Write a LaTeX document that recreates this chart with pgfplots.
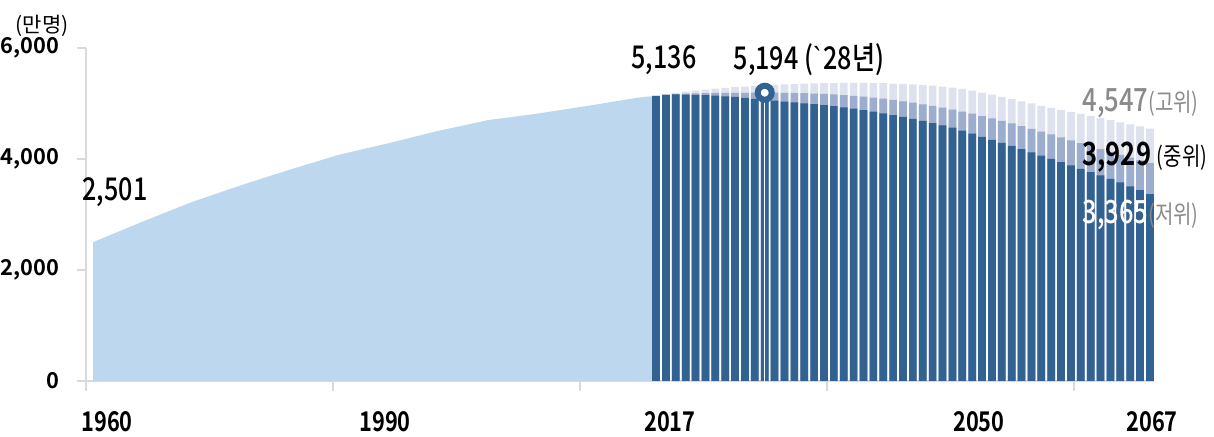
\documentclass[border=0pt]{standalone}
\usepackage{pgfplots}
\usepackage{pgfplotstable}
\usepackage{fontspec}
\pgfplotsset{compat=1.18}
\setmainfont{Noto Sans CJK KR}[BoldFont={Noto Sans CJK KR Bold}]
\newfontfamily\cond{Noto Sans CJK KR}[FakeStretch=0.8, BoldFont={Noto Sans CJK KR Bold}]
\newfontfamily\condm{Noto Sans CJK KR Medium}[FakeStretch=0.8]
\newfontfamily\lat{Liberation Sans}[FakeStretch=0.8]

\definecolor{areablue}{RGB}{189,215,238}
\definecolor{lowblue}{RGB}{50,98,146}
\definecolor{midblue}{RGB}{156,173,206}
\definecolor{highblue}{RGB}{221,226,238}
\definecolor{axisgrey}{RGB}{217,217,217}
\definecolor{txtgrey}{RGB}{138,138,138}

% 1960-2017 estimates (10k persons)
\pgfplotstableread{
year pop
1960 2501
1965 2870
1970 3224
1975 3528
1980 3812
1985 4081
1990 4287
1995 4509
2000 4701
2005 4818
2010 4955
2015 5101
2016 5122
2017 5136
}\past

% 2017-2067 projections: low / medium / high
\pgfplotstableread{
year low mid high
2017 5136 5136 5136
2018 5156 5161 5165
2019 5165 5171 5190
2020 5162 5178 5212
2021 5157 5183 5232
2022 5150 5187 5250
2023 5141 5190 5266
2024 5130 5192 5281
2025 5117 5193 5294
2026 5102 5193 5306
2027 5085 5194 5317
2028 5068 5194 5327
2029 5050 5194 5336
2030 5035 5193 5344
2031 5018 5190 5351
2032 5003 5186 5357
2033 4988 5180 5362
2034 4972 5172 5366
2035 4953 5163 5369
2036 4932 5151 5371
2037 4908 5138 5371
2038 4882 5122 5370
2039 4854 5105 5368
2040 4824 5086 5365
2041 4792 5064 5360
2042 4758 5040 5354
2043 4723 5014 5346
2044 4686 4986 5336
2045 4647 4957 5322
2046 4606 4925 5305
2047 4563 4891 5285
2048 4510 4855 5262
2049 4455 4816 5232
2050 4400 4774 5198
2051 4345 4731 5160
2052 4290 4686 5120
2053 4235 4640 5080
2054 4178 4592 5040
2055 4120 4543 5000
2056 4062 4493 4957
2057 4003 4442 4921
2058 3944 4390 4885
2059 3884 4337 4849
2060 3824 4284 4812
2061 3764 4231 4775
2062 3704 4178 4738
2063 3643 4126 4700
2064 3578 4075 4662
2065 3508 4025 4624
2066 3437 3977 4586
2067 3365 3929 4547
}\proj

\begin{document}
\begin{tikzpicture}
\path[use as bounding box] (0,0) rectangle (607pt,218.5pt);
\begin{axis}[
  at={(43pt,28pt)}, anchor=south west,
  scale only axis,
  width=533.95pt, height=166.5pt,
  xmin=1959.29, xmax=2067.4,
  ymin=0, ymax=6000,
  clip=false,
  axis x line*=bottom, axis y line*=left,
  axis line style={draw=axisgrey, line width=0.8pt},
  tick align=outside,
  major tick length=4.75pt,
  tick style={draw=axisgrey, line width=0.8pt},
  ytick={0,2000,4000,6000},
  yticklabels={0,{2,000},{4,000},{6,000}},
  yticklabel style={font=\bfseries\fontsize{10.9}{12}\selectfont, xshift=-5pt},
  xtick={1961.42,1989.56,2018.41,2049.69,2067.21},
  xticklabels={1960,1990,2017,2050,2067},
  xticklabel style={font=\cond\bfseries\fontsize{13.6}{15}\selectfont, anchor=base, yshift=-20.5pt},
  major x tick style={draw=none},
  extra x ticks={1959.29,1984.3,2009.3,2034.3,2059.3},
  extra x tick labels={},
  extra x tick style={major x tick style={draw=axisgrey, line width=0.8pt}, major tick length=5pt},
]
\addplot[fill=areablue, draw=none] table[x=year, y=pop] {\past} \closedcycle;
\addplot[ybar, bar width=0.78, bar shift=0, fill=highblue, draw=none] table[x=year, y=high] {\proj};
\addplot[ybar, bar width=0.78, bar shift=0, fill=midblue, draw=none] table[x=year, y=mid] {\proj};
\addplot[ybar, bar width=0.78, bar shift=0, fill=lowblue, draw=none] table[x=year, y=low] {\proj};
\addplot[white, line width=0.7pt] coordinates {(2028,0) (2028,5194)};
\addplot[only marks, mark=*, mark size=3.5pt, mark options={draw=lowblue, fill=white, line width=3pt}] coordinates {(2028,5194)};
\end{axis}
\node at (21pt,205.5pt) {\fontsize{10.5}{12}\selectfont (만명)};
\node at (57.5pt,122.5pt) {\condm\fontsize{15.7}{18}\selectfont 2,501};
\node at (332pt,188.5pt) {\condm\fontsize{15.7}{18}\selectfont 5,136};
\node at (404.5pt,188.5pt) {\condm\fontsize{15.7}{18}\selectfont 5,194 ({\lat\textasciigrave}28년)};
\node[anchor=west, inner sep=0pt, text=txtgrey] at (541pt,167pt) {\condm\fontsize{16}{18}\selectfont 4,547{\cond\fontsize{12.5}{14}\selectfont(고위)}};
\node[anchor=west, inner sep=0pt] at (541pt,140pt) {\cond\bfseries\fontsize{16}{18}\selectfont 3,929 {\mdseries\fontsize{12.5}{14}\selectfont(중위)}};
\node[anchor=west, inner sep=0pt] at (541pt,111pt) {\condm\fontsize{16}{18}\selectfont\textcolor{white}{3,365}\textcolor{txtgrey}{\cond\fontsize{12.5}{14}\selectfont(저위)}};
\end{tikzpicture}
\end{document}
